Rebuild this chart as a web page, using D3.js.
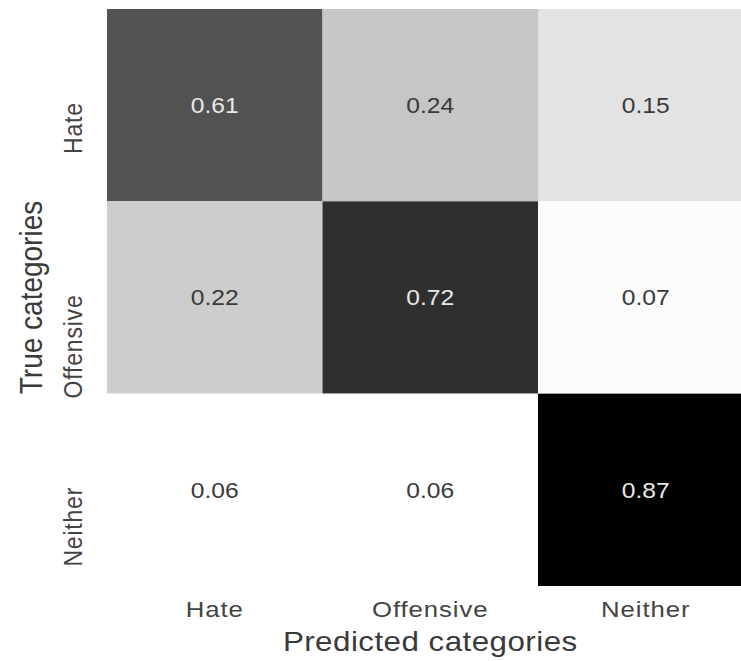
<!DOCTYPE html>
<html>
<head>
<meta charset="utf-8">
<script src="https://cdn.jsdelivr.net/npm/d3@7"></script>
<style>
  html, body { margin: 0; padding: 0; background: #fff; }
  svg { display: block; }
  text { font-family: "Liberation Sans", Arial, sans-serif; }
</style>
</head>
<body>
<svg id="chart" width="741" height="661"></svg>
<script>
// ---- data ----
const predictedCategories = ["Hate", "Offensive", "Neither"];
const trueCategories = ["Hate", "Offensive", "Neither"];
const hateRow = [0.61, 0.24, 0.15];
const offensiveRow = [0.22, 0.72, 0.07];
const neitherRow = [0.06, 0.06, 0.87];
const rows = [hateRow, offensiveRow, neitherRow];
const xTitle = "Predicted categories";
const yTitle = "True categories";

// ---- layout ----
const W = 741, H = 661;
const plot = { left: 107, right: 753.5, top: 9, bottom: 586 };
const SX = 1.12; // horizontal stretch of the original picture

const cells = [];
rows.forEach((r, i) => r.forEach((v, j) => cells.push({ t: trueCategories[i], p: predictedCategories[j], v })));

const svg = d3.select("#chart");
const x = d3.scaleBand().domain(predictedCategories).range([plot.left, plot.right]);
const y = d3.scaleBand().domain(trueCategories).range([plot.top, plot.bottom]);
const ext = d3.extent(cells, d => d.v);
const color = d3.scaleLinear().domain(ext).range(["#ffffff", "#000000"]).interpolate(d3.interpolateRgb);
const norm = d3.scaleLinear().domain(ext).range([0, 1]);

svg.append("g").selectAll("rect").data(cells).join("rect")
  .attr("x", d => x(d.p)).attr("y", d => y(d.t))
  .attr("width", x.bandwidth()).attr("height", y.bandwidth())
  .attr("fill", d => color(d.v));

// annotations
svg.append("g").selectAll("g").data(cells).join("g")
  .attr("transform", d => `translate(${x(d.p) + x.bandwidth() / 2},${y(d.t) + y.bandwidth() / 2}) scale(${SX},1)`)
  .append("text")
  .attr("text-anchor", "middle")
  .attr("dy", "0.36em")
  .attr("font-size", 22)
  .attr("fill", d => norm(d.v) > 0.5 ? "#e8e8e8" : "#3a3a3a")
  .text(d => d3.format(".2f")(d.v));

// x tick labels
svg.append("g").selectAll("g").data(predictedCategories).join("g")
  .attr("transform", d => `translate(${x(d) + x.bandwidth() / 2},617) scale(${SX},1)`)
  .append("text")
  .attr("text-anchor", "middle")
  .attr("font-size", 23)
  .attr("letter-spacing", 0.8)
  .attr("fill", "#444")
  .text(d => d);

// y tick labels (rotated)
svg.append("g").selectAll("g").data(trueCategories).join("g")
  .attr("transform", d => `translate(82,${y(d) + y.bandwidth() / 2 - 3}) scale(${SX},1) rotate(-90)`)
  .append("text")
  .attr("text-anchor", "end")
  .attr("font-size", 23)
  .attr("letter-spacing", 0.8)
  .attr("fill", "#444")
  .text(d => d);

// axis titles
svg.append("g")
  .attr("transform", `translate(${(plot.left + plot.right) / 2},651) scale(${SX},1)`)
  .append("text")
  .attr("text-anchor", "middle")
  .attr("font-size", 28)
  .attr("letter-spacing", 0.4)
  .attr("fill", "#3a3a3a")
  .text(xTitle);

svg.append("g")
  .attr("transform", `translate(42,${(plot.top + plot.bottom) / 2}) scale(${SX},1) rotate(-90)`)
  .append("text")
  .attr("text-anchor", "middle")
  .attr("font-size", 28)
  .attr("fill", "#3a3a3a")
  .text(yTitle);
</script>
</body>
</html>
